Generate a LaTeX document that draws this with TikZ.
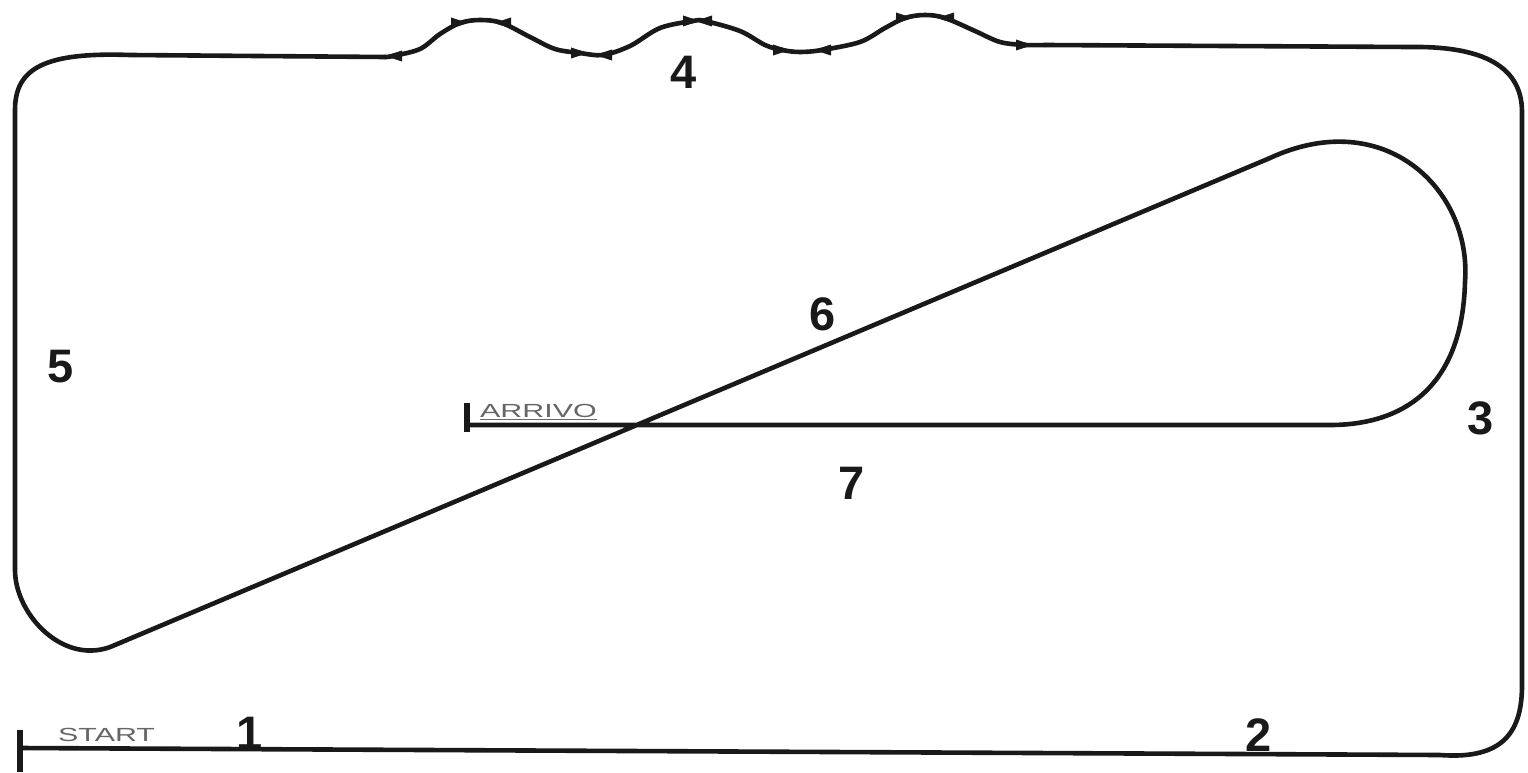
\documentclass[tikz,border=0pt]{standalone}
\usepackage{fontspec}
\setmainfont{Liberation Sans}
\begin{document}
\begin{tikzpicture}[x=1pt,y=-1pt,
  track/.style={line width=4.6pt,line cap=round,line join=round,black!90},
  tick/.style={line width=6pt,black!90},
  num/.style={font=\fontsize{47}{50}\selectfont\bfseries,text=black!90,inner sep=0pt},
  small/.style={font=\fontsize{19}{22}\selectfont,text=black!60,inner sep=0pt},
  mkr/.pic={\fill[black!90] (-9,-5.5) -- (8,0) -- (-9,5.5) -- cycle;}]
\useasboundingbox (0,0) rectangle (1528,773);
% named points
\coordinate (S) at (20,748);
\coordinate (BR) at (1440,755);
\coordinate (R1) at (1522,685);
\coordinate (R2) at (1522,112);
\coordinate (TR) at (1410,47);
\coordinate (W1) at (1045,45);
\coordinate (W0) at (385,57);
\coordinate (TL) at (130,55);
\coordinate (L1) at (15,110);
\coordinate (L2) at (15,570);
\coordinate (D0) at (115,645);
\coordinate (D1) at (1270,158);
\coordinate (LR) at (1465,282);
\coordinate (A1) at (1330,425);
\coordinate (A) at (467,425);
% track
\draw[track] (S) -- (BR) .. controls (1505,760) and (1522,730) .. (R1) -- (R2)
  .. controls (1522,62) and (1475,46) .. (TR) -- (W1);
\draw[track] plot[smooth,tension=0.55] coordinates {(1045,45) (1025,45) (1000,42) (975,31) (945,18) (925,15) (905,18) (885,28) (860,42) (822,50) (800,52) (782,50) (765,45) (740,31) (705,21) (693,21) (660,28) (630,46) (603,55) (580,53) (555,49) (530,37) (502,23) (480,20) (460,23) (440,34) (420,49) (393,56) (385,57)};
\draw[track] (W0) -- (TL) .. controls (45,52) and (15,68) .. (L1) -- (L2)
  .. controls (15,615) and (65,668) .. (D0) -- (D1)
  .. controls (1385,105) and (1472,190) .. (LR)
  .. controls (1462,395) and (1395,425) .. (A1) -- (A);
% markers on the wave
\pic[xscale=-1] at (393,56) {mkr};
\pic at (460,23) {mkr};
\pic[xscale=-1] at (502,23) {mkr};
\pic at (580,53) {mkr};
\pic[xscale=-1] at (603,55) {mkr};
\pic at (692,21) {mkr};
\pic[xscale=-1] at (703,21) {mkr};
\pic at (782,50) {mkr};
\pic[xscale=-1] at (822,50) {mkr};
\pic at (905,18) {mkr};
\pic[xscale=-1] at (945,18) {mkr};
\pic at (1025,45) {mkr};
% ticks
\draw[tick] (20,730) -- (20,772);
\draw[tick] (467,403) -- (467,432);
% small labels
\node[small,anchor=south west] (start) at (58,742) {\scalebox{1.6}[1]{START}};
\node[small,anchor=south west] (arrivo) at (480,420) {\scalebox{1.6}[1]{\underline{ARRIVO}}};
% numbers
\node[num] (n1) at (250,733) {1};
\node[num] (n2) at (1259,735) {2};
\node[num] (n3) at (1481,418) {3};
\node[num] (n4) at (684,72) {4};
\node[num] (n5) at (61,367) {5};
\node[num] (n6) at (823,314) {6};
\node[num] (n7) at (852,483) {7};
\end{tikzpicture}
\end{document}
